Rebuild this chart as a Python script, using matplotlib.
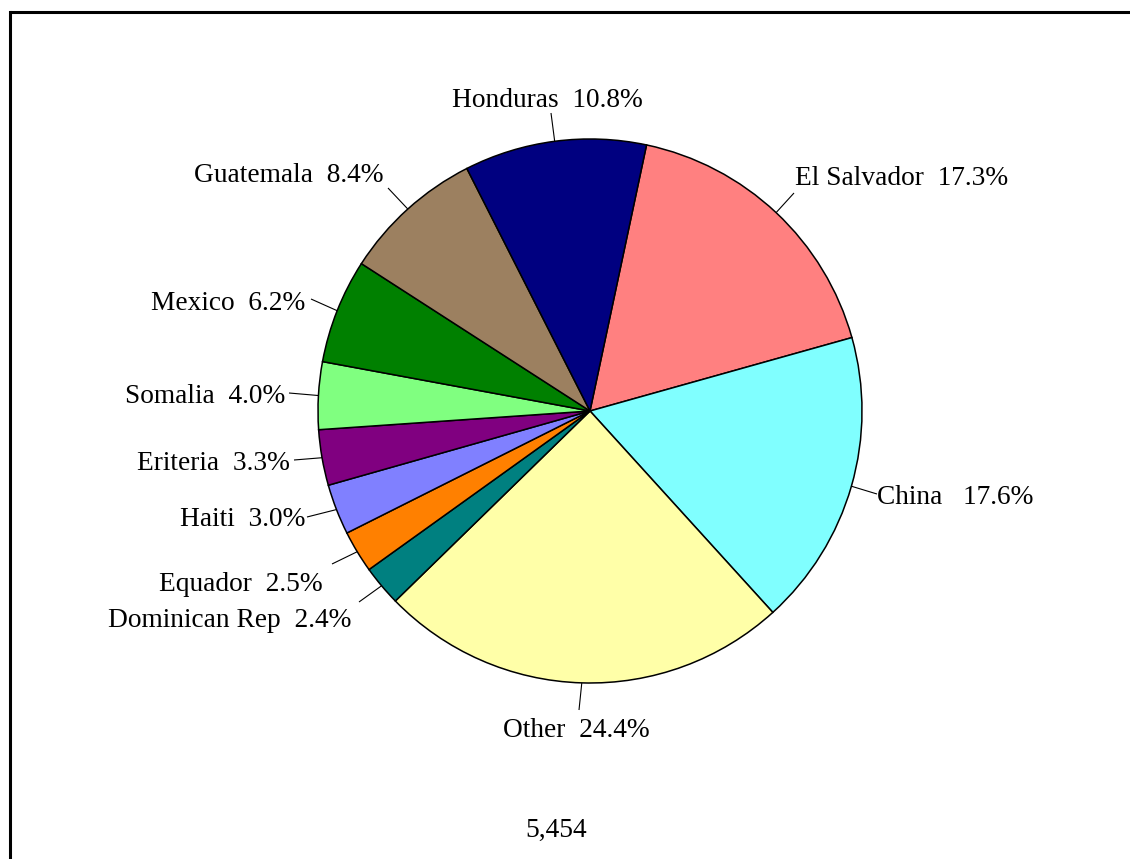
import matplotlib
matplotlib.use("Agg")
import matplotlib.pyplot as plt
from matplotlib.lines import Line2D
import numpy as np

# ---- data ----
countries = ["El Salvador", "China", "Other", "Dominican Rep", "Equador", "Haiti",
             "Eriteria", "Somalia", "Mexico", "Guatemala", "Honduras"]
shares = [17.3, 17.6, 24.4, 2.4, 2.5, 3.0, 3.3, 4.0, 6.2, 8.4, 10.8]
label_texts = ["El Salvador  17.3%", "China   17.6%", "Other  24.4%", "Dominican Rep  2.4%",
               "Equador  2.5%", "Haiti  3.0%", "Eriteria  3.3%", "Somalia  4.0%",
               "Mexico  6.2%", "Guatemala  8.4%", "Honduras  10.8%"]
total_text = "5,454"
colors = ["#FF8080", "#80FFFF", "#FFFFA8", "#008080", "#FF8000", "#8080FF",
          "#800080", "#80FF80", "#008000", "#9C8060", "#000080"]

# ---- layout (pixel coordinates, y from top) ----
W, H = 1130, 859
cx, cy, R = 590, 411, 272
# text anchor: (x, baseline y, ha)
label_pos = [(795, 185, "left"), (877, 504, "left"), (503, 737, "left"),
             (351, 627, "right"), (323, 591, "right"), (305, 526, "right"),
             (290, 470, "right"), (285, 403, "right"), (305, 310, "right"),
             (384, 182, "right"), (547.5, 107, "center")]
leader_end = [(794, 193), (877, 494), (579, 710), (359, 602), (332, 564), (307, 517),
              (294, 460), (289, 393), (311, 299), (388, 188), (551, 113)]

FONT = "Liberation Serif"
FS = 19.7

fig = plt.figure(figsize=(W / 100, H / 100), dpi=100)
ax = fig.add_axes([0, 0, 1, 1])
ax.set_xlim(0, W)
ax.set_ylim(0, H)
ax.set_aspect("equal")
ax.axis("off")

def py(y):
    return H - y

wedges, _ = ax.pie(shares, colors=colors, startangle=78, counterclock=False,
                   center=(cx, py(cy)), radius=R, frame=True,
                   wedgeprops=dict(edgecolor="black", linewidth=1.1))
ax.set_xlim(0, W)
ax.set_ylim(0, H)
ax.axis("off")

for w, txt, (tx, ty, ha), (lx, ly) in zip(wedges, label_texts, label_pos, leader_end):
    mid = np.deg2rad((w.theta1 + w.theta2) / 2)
    ex = cx + R * np.cos(mid)
    ey = py(cy) + R * np.sin(mid)
    ax.plot([ex, lx], [ey, py(ly)], color="black", lw=0.8, solid_capstyle="butt")
    ax.text(tx, py(ty), txt, ha=ha, va="baseline", fontsize=FS, family=FONT, color="black")

ax.text(525, py(837), total_text, ha="left", va="baseline", fontsize=FS, family=FONT)

# frame lines (top and left only visible)
fig.add_artist(Line2D([10 / W, 1.0], [1 - 12 / H, 1 - 12 / H], color="black", lw=2.2,
                      transform=fig.transFigure, solid_capstyle="butt"))
fig.add_artist(Line2D([10 / W, 10 / W], [1 - 12 / H, 0], color="black", lw=2.2,
                      transform=fig.transFigure, solid_capstyle="projecting"))

fig.savefig("out.png", dpi=100, facecolor="white")
